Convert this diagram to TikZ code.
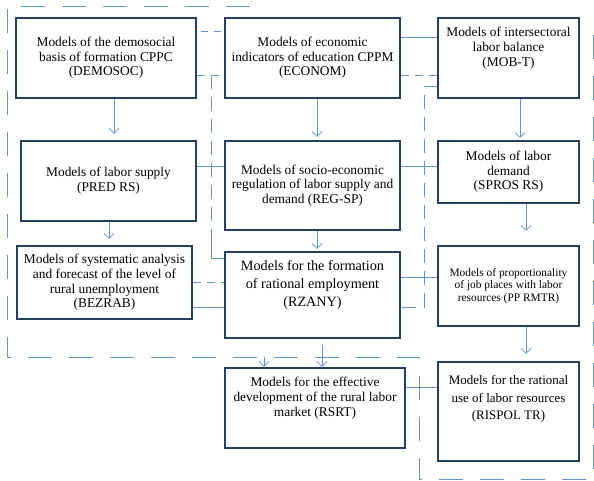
\documentclass[tikz,border=0pt]{standalone}
\usepackage{fontspec}
\setmainfont{Liberation Serif}
\usepackage{xcolor}
\usepackage{tikz}
\usetikzlibrary{arrows.meta, calc}
\definecolor{boxnavy}{RGB}{38,62,98}
\definecolor{linkblue}{RGB}{98,148,208}

\begin{document}
\begin{tikzpicture}[x=1pt, y=-1pt,
    model/.style={draw=boxnavy, line width=2.2pt, fill=white, align=center, inner sep=2pt,
      font=\fontsize{13.4}{14.6}\selectfont},
    link/.style={draw=linkblue, line width=0.8pt},
    flow/.style={link, -{Straight Barb[length=5pt, width=10pt]}},
    bus/.style={link, dash pattern=on 14pt off 8pt},
    frame/.style={link, dash pattern=on 24pt off 17pt}]
  \useasboundingbox (0,0) rectangle (594,480);

  \draw [frame] (250,6) -- (7,6) -- (7,357) -- (419,357) -- (419,479) -- (593,479) -- (593,30);

  \node[model, minimum width=180pt, minimum height=80pt] (demosoc) at (106,58)
    {Models of the demosocial\\basis of formation CPPC\\(DEMOSOC)};
  \node[model, minimum width=175pt, minimum height=80pt] (econom) at (312.5,58)
    {Models of economic\\indicators of education CPPM\\(ECONOM)};
  \node[model, minimum width=141pt, minimum height=80pt] (mobt) at (508.5,58)
    {Models of intersectoral\\labor balance\\(MOB-T)\\[8pt]};
  \node[model, minimum width=175pt, minimum height=80pt] (predrs) at (108.5,181)
    {Models of labor supply\\(PRED RS)};
  \node[model, minimum width=175pt, minimum height=89pt] (regsp) at (312.5,185.5)
    {Models of socio-economic\\regulation of labor supply and\\demand (REG-SP)};
  \node[model, minimum width=141pt, minimum height=62pt] (spros) at (508.5,172)
    {Models of labor\\demand\\(SPROS RS)};
  \node[model, minimum width=175pt, minimum height=73pt] (bezrab) at (104.5,282.5)
    {Models of systematic analysis\\and forecast of the level of\\rural unemployment\\(BEZRAB)};
  \node[model, minimum width=175pt, minimum height=86pt, font=\fontsize{14.2}{18}\selectfont] (rzany) at (312.5,295)
    {Models for the formation\\of rational employment\\(RZANY)\\[6pt]};
  \node[model, minimum width=141pt, minimum height=80pt, font=\fontsize{11.4}{12.4}\selectfont] (pprmtr) at (508.5,286)
    {Models of proportionality\\of job places with labor\\resources (PP RMTR)};
  \node[model, minimum width=180pt, minimum height=80pt] (rsrt) at (315,408)
    {Models for the effective\\development of the rural labor\\market (RSRT)\\[8pt]};
  \node[model, minimum width=141pt, minimum height=99pt, font=\fontsize{13}{17.6}\selectfont] (rispol) at (508.5,411.5)
    {Models for the rational\\use of labor resources\\(RISPOL TR)\\[10pt]};

  \coordinate (lbus) at (211,75);
  \coordinate (tap) at (264,357);

  \draw [flow, shorten >=6pt] ([xshift=8pt]demosoc.south) -- ([xshift=8pt]demosoc.south |- predrs.north);
  \draw [flow, shorten >=6pt] ([xshift=0.5pt]predrs.south) -- ([xshift=0.5pt]predrs.south |- bezrab.north);
  \draw [flow, shorten >=3pt] ([xshift=4.5pt]econom.south) -- ([xshift=4.5pt]econom.south |- regsp.north);
  \draw [flow, shorten >=2pt] ([xshift=4.5pt]regsp.south) -- ([xshift=4.5pt]regsp.south |- rzany.north);
  \draw [flow, shorten >=2pt] ([xshift=11.5pt]mobt.south) -- ([xshift=11.5pt]mobt.south |- spros.north);
  \draw [flow, shorten >=14pt] ([xshift=17.5pt]spros.south) -- ([xshift=17.5pt]spros.south |- pprmtr.north);
  \draw [flow, shorten >=7pt] ([xshift=17.5pt]pprmtr.south) -- ([xshift=17.5pt]pprmtr.south |- rispol.north);
  \draw [flow, shorten <=6pt] ([xshift=9.5pt]rzany.south) -- ([xshift=9.5pt]rzany.south |- rsrt.north);
  \draw [flow] (tap) -- (tap |- rsrt.north);

  \draw [link] ([yshift=21pt]econom.east) -- ([yshift=21pt]econom.east -| mobt.west);
  \draw [link] ([yshift=15pt]predrs.east) -- ([yshift=15pt]predrs.east -| regsp.west);
  \draw [link] ([yshift=19.5pt]regsp.east) -- ([yshift=19.5pt]regsp.east -| spros.west);
  \draw [link] ([yshift=-24.5pt]bezrab.east) -- ([yshift=-24.5pt]bezrab.east -| rzany.west);
  \draw [link] ([yshift=18pt]rzany.east) -- ([yshift=18pt]rzany.east -| pprmtr.west);
  \draw [link] ([yshift=21pt]rsrt.east) -- ([yshift=21pt]rsrt.east -| rispol.west);

  \draw [bus, dash pattern=on 7pt off 6pt, dash phase=-4pt] ([yshift=27pt]demosoc.east) -- ([yshift=27pt]demosoc.east -| econom.west);
  \draw [bus, dash pattern=on 8pt off 6pt] ([yshift=-17pt]demosoc.east) -- ([yshift=-17pt]demosoc.east -| econom.west);
  \draw [bus, dash pattern=on 8pt off 6pt] ([yshift=-17pt]econom.east) -- ([yshift=-17pt]econom.east -| mobt.west);
  \draw [bus, dash pattern=on 8pt off 6pt] (bezrab.east) -- (bezrab.east -| rzany.west);
  \draw [bus] (lbus) -- (lbus |- 0,240);
  \draw [link] (lbus |- 0,240) |- ([yshift=37pt]rzany.west);
  \draw [bus] ([yshift=-28pt]mobt.west) -| ([xshift=23pt, yshift=-12pt]rzany.east) -- ([yshift=-12pt]rzany.east);
\end{tikzpicture}
\end{document}
